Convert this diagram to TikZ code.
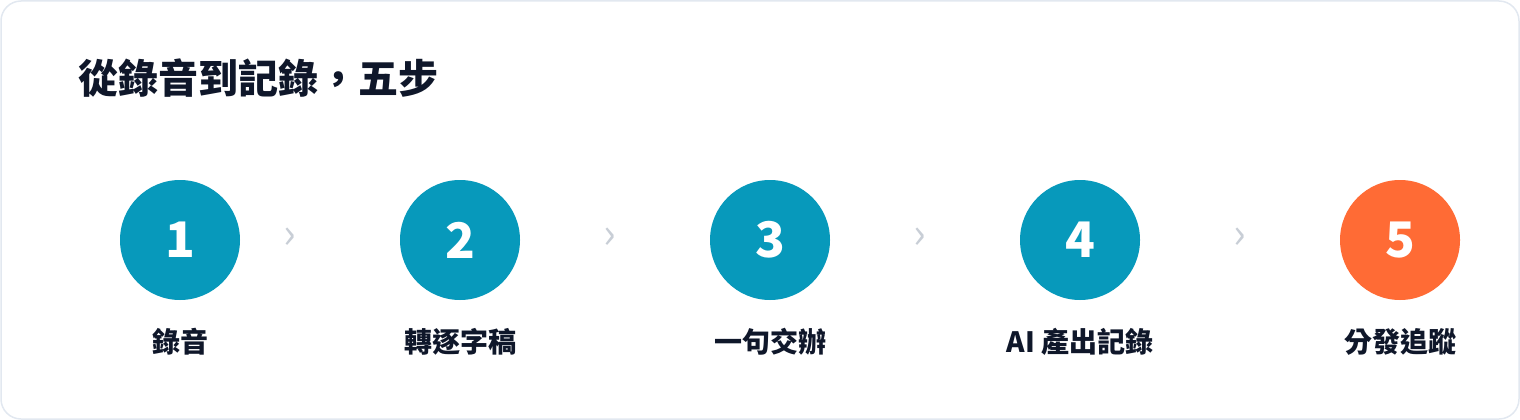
\documentclass[tikz,border=0pt]{standalone}
\usepackage{fontspec}
\setmainfont{Noto Sans CJK TC}
\definecolor{teal}{HTML}{0799BB}
\definecolor{orange}{HTML}{FF6B35}
\definecolor{ink}{HTML}{0F172A}
\definecolor{frame}{HTML}{E2E8F0}
\definecolor{chev}{HTML}{C8CED6}
\begin{document}
\begin{tikzpicture}[x=1pt,y=-1pt,
  stepcircle/.style={circle,minimum size=120pt,inner sep=0pt,fill=teal,text=white,font=\bfseries\fontsize{49}{49}\selectfont},
  steplabel/.style={text=ink,font=\bfseries\fontsize{28}{28}\selectfont,inner sep=0pt},
  chevron/.style={text=chev,font=\fontsize{42}{42}\selectfont,inner sep=0pt}]
\useasboundingbox (0,0) rectangle (1520,420);
\draw[frame,line width=1.5pt,rounded corners=20pt,fill=white] (1,1) rectangle (1519,419);
\node[anchor=west,text=ink,font=\bfseries\fontsize{40}{40}\selectfont,inner sep=0pt] (title) at (78,78) {從錄音到記錄，五步};
\node[stepcircle] (c1) at (180,240) {1};
\node[stepcircle] (c2) at (460,240) {2};
\node[stepcircle] (c3) at (770,240) {3};
\node[stepcircle] (c4) at (1080,240) {4};
\node[stepcircle,fill=orange] (c5) at (1400,240) {5};
\node[steplabel] (l1) at (180,342) {錄音};
\node[steplabel] (l2) at (460,342) {轉逐字稿};
\node[steplabel] (l3) at (770,342) {一句交辦};
\node[steplabel] (l4) at (1080,342) {AI 產出記錄};
\node[steplabel] (l5) at (1400,342) {分發追蹤};
\node[chevron] (a1) at (290,238) {›};
\node[chevron] (a2) at (610,238) {›};
\node[chevron] (a3) at (920,238) {›};
\node[chevron] (a4) at (1240,238) {›};
\end{tikzpicture}
\end{document}
